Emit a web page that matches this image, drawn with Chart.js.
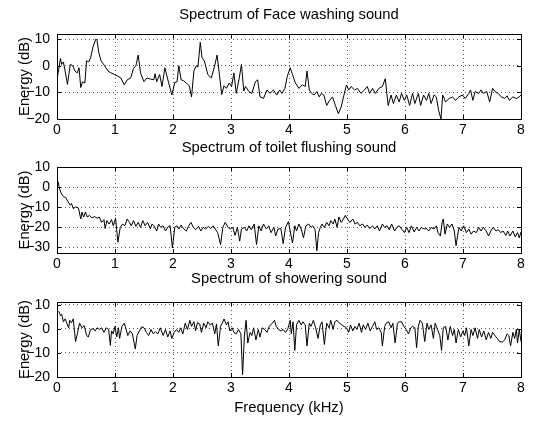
<!DOCTYPE html>
<html>
<head>
<meta charset="utf-8">
<script src="https://cdn.jsdelivr.net/npm/chart.js@4.4.1/dist/chart.umd.min.js"></script>
<style>
  html, body { margin: 0; padding: 0; background: #fff; }
  #wrap { position: relative; width: 534px; height: 426px; }
  .panel { position: absolute; left: 0; width: 534px; }
</style>
</head>
<body>
<div id="wrap">
  <div class="panel" style="top:0;height:140px"><canvas id="c1"></canvas></div>
  <div class="panel" style="top:134px;height:140px"><canvas id="c2"></canvas></div>
  <div class="panel" style="top:264px;height:162px"><canvas id="c3"></canvas></div>
</div>
<script>
// values (kHz, dB)
const faceFreq = [0.00,0.06,0.08,0.11,0.14,0.18,0.23,0.27,0.31,0.35,0.38,0.41,0.44,0.48,0.51,0.55,0.58,0.62,0.67,0.69,
  0.72,0.76,0.82,0.88,0.93,0.99,1.05,1.10,1.16,1.21,1.27,1.32,1.36,1.40,1.44,1.50,1.55,1.61,1.67,1.69,
  1.72,1.77,1.81,1.86,1.92,1.98,2.03,2.07,2.10,2.14,2.18,2.23,2.28,2.32,2.36,2.40,2.43,2.47,2.50,2.54,
  2.60,2.66,2.71,2.76,2.80,2.84,2.88,2.92,2.97,3.01,3.05,3.09,3.14,3.18,3.22,3.25,3.31,3.36,3.42,3.46,
  3.50,3.56,3.62,3.67,3.73,3.79,3.84,3.88,3.93,3.97,4.02,
  4.06,4.11,4.17,4.23,4.28,4.31,4.35,4.39,4.43,4.48,4.52,4.56,4.60,4.65,4.70,4.75,4.80,4.85,4.90,4.94,
  4.99,5.03,5.07,5.13,5.18,5.24,5.30,5.35,5.39,5.44,5.49,5.55,5.61,5.66,5.71,5.76,5.80,5.85,5.90,5.94,
  5.99,6.03,6.08,6.13,6.17,6.23,6.27,6.32,6.37,6.41,6.45,6.50,6.54,6.58,6.62,6.65,6.70,6.76,6.82,6.87,
  6.93,6.99,7.04,7.10,7.13,7.17,7.21,7.27,7.31,7.35,7.41,7.46,7.51,7.55,7.61,7.66,7.72,7.76,7.80,7.86,
  7.92,7.97,8.00];
const faceDb = [-5.3,2.7,0.5,1.4,-2,-7,0.5,0,-2,-2.7,-0.8,-8.2,-6,-6.5,1.8,1.5,3,7,10,9.5,
  5,1.8,0,-2,-2.7,-3.3,-4,-4.6,-7.2,-5.3,-4.6,-1,0,4,-2.7,-6,-4.6,-5,-5.3,-3,
  -6,-3.3,-7.8,-0.8,-6,-11,-6.3,-6,0,-5.3,-5.6,-6.5,-7.5,-11.7,-2,0,-0.5,8.8,3,1.8,
  -3.3,-4.6,-0.8,4,-3.3,-10.8,-7.5,-8.5,-6.5,-7.8,-2.7,-10.4,-4.9,0.5,-9.5,-7.8,-9.7,-10.4,-6,-5.3,
  -11.7,-12.3,-9.1,-10.4,-9.1,-11,-9.1,-10.4,-8.5,-4,-0.8,
  -3.3,-6.5,-8.5,-7.2,-7.8,-2,-9.1,-10.4,-11,-9.7,-11.7,-10.4,-11,-14.9,-13,-11.7,-14.9,-18,-15.5,-11.7,
  -7.2,-9.1,-7.8,-9.1,-8.5,-10.4,-9.1,-7.8,-10.4,-8.5,-10.4,-8.5,-7.8,-4.9,-14.9,-11,-14.2,-11,-13.6,-10.4,
  -13,-11,-14.9,-10.4,-14.2,-10.4,-14.9,-11,-13,-10.4,-14.2,-11,-11.7,-16.8,-20,-11,-13.6,-12.3,-11.7,-13,
  -11.7,-11,-12.3,-10.4,-9.1,-13,-9.7,-10.4,-9.1,-10.4,-9.7,-13.6,-8.5,-9.7,-10.4,-11.7,-12.3,-11.3,-13,-11.7,
  -12.3,-11.7,-11];

const flushFreq = [0.02,0.04,0.07,0.11,0.15,0.19,0.23,0.25,0.28,0.32,0.37,0.41,0.43,0.46,0.49,0.52,0.56,0.60,0.65,0.69,
  0.73,0.77,0.81,0.83,0.86,0.90,0.94,0.97,1.01,1.05,1.09,1.13,1.17,1.21,1.25,1.28,1.32,1.36,1.40,1.44,
  1.48,1.52,1.56,1.61,1.64,1.67,1.72,1.75,1.79,1.83,1.87,1.92,1.95,1.99,2.03,2.07,2.10,2.14,2.18,2.23,
  2.27,2.31,2.35,2.39,2.44,2.48,2.52,2.56,2.61,2.65,2.69,2.73,2.77,2.82,2.86,2.90,2.95,2.99,3.03,3.07,
  3.11,3.15,3.18,3.23,3.27,3.31,3.35,3.40,3.44,3.48,3.52,3.56,3.61,3.65,3.69,3.74,3.77,3.81,3.86,3.90,
  3.94,3.99,
  4.06,4.10,4.13,4.17,4.21,4.25,4.29,4.34,4.38,4.41,4.45,4.48,4.51,4.54,4.57,4.61,4.65,4.69,4.72,4.76,
  4.79,4.83,4.86,4.90,4.94,4.97,5.01,5.05,5.10,5.14,5.18,5.22,5.27,5.31,5.35,5.39,5.44,5.48,5.52,5.56,
  5.61,5.65,5.69,5.73,5.77,5.82,5.86,5.90,5.94,5.99,6.03,6.07,6.11,6.16,6.20,6.24,6.28,6.33,6.37,6.41,
  6.45,6.50,6.54,6.57,6.61,6.64,6.66,6.69,6.73,6.77,6.81,6.85,6.88,6.93,6.97,7.01,7.06,7.10,7.14,7.18,
  7.23,7.27,7.31,7.35,7.40,7.44,7.48,7.52,7.57,7.61,7.65,7.69,7.74,7.77,7.81,7.86,7.90,7.94,7.97,8.00];
const flushDb = [2.6,-0.5,-3,-4.8,-5.3,-7.4,-9.1,-8.2,-10.8,-10,-10.5,-16,-12.5,-15,-12.5,-15,-14.2,-15.4,-14.8,-15.6,
  -15,-17.7,-16.3,-20.8,-16.8,-18.5,-16.3,-19.4,-15.6,-27.6,-20.2,-18.5,-19.4,-16,-17.7,-19.4,-16.8,-19.7,-17.7,-20.2,
  -16.8,-19.4,-17.7,-20.8,-18.5,-19.4,-22,-18.5,-20.2,-19.4,-22,-19.7,-19.4,-30.5,-20.2,-19.4,-21,-19,-20.8,-22,
  -19.4,-17.7,-20.2,-21.4,-19.7,-22,-20.2,-21,-19.7,-20.8,-19.4,-21,-22.8,-28.8,-20.2,-17.7,-20.2,-21,-20.2,-24.2,
  -20.2,-27.1,-21,-20.2,-22,-19.4,-21.4,-18.5,-28.8,-19.4,-22,-18.5,-21,-19.4,-22.8,-20.2,-24.5,-21,-20.8,-28.3,
  -20.2,-17.3,
  -28,-19.4,-22,-18.5,-21,-25.4,-19.4,-18.5,-20.2,-19.4,-21.4,-31.9,-22.8,-20.2,-18.5,-20.2,-17.7,-19.4,-16.8,-18.5,
  -16,-20.2,-15,-17.7,-16,-14.2,-16,-17.7,-16,-18.5,-17.7,-19.4,-18.5,-20.2,-19,-20.8,-19.4,-21,-19.4,-22,
  -18.5,-20.2,-19.4,-21.4,-18.5,-22,-20.2,-19.4,-21,-22.8,-20.2,-22.8,-19.4,-22.5,-20.2,-22,-20.2,-21,-20.8,-22,
  -20.2,-21,-19.4,-22.8,-24.5,-17.7,-16,-23.6,-18.5,-20.2,-18.5,-22,-29.3,-20.2,-22,-19.4,-22.8,-21,-23.6,-22,
  -22.8,-20.2,-22,-20.2,-22,-24.5,-22,-20.2,-22,-21.4,-22.8,-22,-24.2,-22,-24.5,-22,-24.9,-22.8,-25.4,-22.5];

const showerFreq = [0.03,0.06,0.08,0.11,0.14,0.17,0.20,0.22,0.25,0.28,0.32,0.35,0.39,0.43,0.47,0.51,0.54,0.58,0.62,0.66,
  0.69,0.73,0.77,0.81,0.85,0.89,0.92,0.94,0.97,1.00,1.03,1.06,1.08,1.12,1.16,1.20,1.22,1.26,1.30,1.35,
  1.38,1.42,1.46,1.50,1.54,1.58,1.62,1.66,1.70,1.74,1.78,1.83,1.87,1.91,1.95,1.98,2.02,2.06,2.10,2.13,
  2.17,2.21,2.25,2.29,2.32,2.36,2.39,2.42,2.46,2.49,2.53,2.57,2.60,2.64,2.68,2.72,2.75,2.78,2.82,2.85,
  2.88,2.92,2.95,2.98,3.02,3.05,3.09,3.13,3.17,3.20,3.23,3.26,3.29,3.33,3.36,3.39,3.43,3.47,3.50,3.54,
  3.58,3.62,3.66,3.71,3.75,3.78,3.82,3.86,3.90,3.94,3.98,4.02,4.04,
  4.07,4.10,4.13,4.17,4.21,4.24,4.28,4.31,4.35,4.38,4.42,4.46,4.50,4.54,4.57,4.61,4.65,4.69,4.72,4.76,
  4.79,4.83,4.87,4.91,4.95,4.99,5.03,5.06,5.10,5.14,5.17,5.21,5.25,5.28,5.32,5.36,5.40,5.44,5.48,5.51,
  5.55,5.59,5.61,5.65,5.68,5.72,5.76,5.79,5.83,5.87,5.90,5.94,5.98,6.02,6.06,6.10,6.13,6.17,6.20,6.23,
  6.26,6.30,6.34,6.38,6.41,6.45,6.49,6.52,6.56,6.60,6.63,6.66,6.70,6.74,6.78,6.82,6.85,6.88,6.92,6.96,
  7.00,7.03,7.06,7.10,7.14,7.17,7.21,7.25,7.28,7.32,7.36,7.40,7.44,7.48,7.51,7.55,7.59,7.63,7.68,7.72,
  7.76,7.79,7.82,7.86,7.89,7.92,7.94,7.97,8.00];
const showerDb = [7.3,5.4,6,2.9,4.1,2.3,0.4,3.5,2.5,4.1,-5.3,-2.1,2.3,0.4,1.3,-2.8,-3.4,-0.3,0,-0.9,
  0.4,-0.3,0.4,-1.5,0.4,-0.3,-6.9,-0.9,-2.1,1,-3.4,0.4,-4,1,2.3,-0.9,-2.8,-0.9,-2.1,-8.4,
  -2.8,-0.9,0.8,0.4,-1.5,-2.8,-0.3,-2.1,-1.3,-2.1,0.4,-2.8,-0.3,-3.4,-0.9,-4,-1.5,-0.3,-1.5,0.4,
  -2.1,2.3,-0.3,3.5,1,2.9,-0.9,2.5,2,-1.5,2.3,0.4,2.9,1.6,2.3,-2.1,2,-7.1,1,2.3,
  4.1,1.6,2.9,-0.9,0.4,-1.5,-2.1,-0.3,-2.1,-19,-3.4,3.5,-5.9,-1.5,-2.8,0.4,-4.6,-0.3,-3.4,0.4,
  -0.3,-1.5,1,2.3,3.5,1,-0.3,-0.9,-0.3,-1.5,0,3.5,-2.1,
  2.9,-9,1.6,3.5,1.6,2.9,1.6,-7.1,2.3,1,3.5,0.4,-4,1.6,2.9,-6.5,2.3,0.4,3.5,-0.3,
  2.9,3.5,2.3,1.6,1,0.4,-1.5,1.6,-0.9,1,-0.3,2.3,-1.5,1.6,-0.3,2.3,-0.9,1,2.9,-0.3,
  0.4,-1.5,-7.1,1,2.5,2.9,0.4,2.3,-5.9,2.3,2.9,2.9,1,-0.3,-2.1,0.4,1,0.4,-7.8,1,
  3.5,2.3,-5.3,2.3,-0.3,1.6,-4,2.3,-0.3,-2.8,-9,0.4,1,-4.6,1,-2.8,-0.3,-5.9,-0.3,-3.4,
  -0.9,-2.8,0.4,-7.1,-0.3,-2.8,0.4,-4,-0.3,-3.4,-0.9,-4.6,-1.5,-4,-1.5,-2.8,-4,-5.3,-5.5,-4.6,
  -2.1,-2.8,-7.1,-1.5,-4,-0.3,-5.9,-0.3,-5.3];

const xTicks = [0, 1, 2, 3, 4, 5, 6, 7, 8];

Chart.defaults.font.family = '"Liberation Sans", Arial, Helvetica, sans-serif';
Chart.defaults.color = '#000';

const TICK_FONT = 14;
const LABEL_FONT = 14.8;

// matlab style box with inward tick marks
const boxPlugin = {
  id: 'box',
  afterDraw(chart) {
    const { ctx, chartArea: a, scales } = chart;
    ctx.save();
    ctx.strokeStyle = '#000';
    ctx.lineWidth = 1;
    ctx.beginPath();
    scales.x.ticks.forEach(t => {
      const px = Math.round(scales.x.getPixelForValue(t.value)) + 0.5;
      ctx.moveTo(px, a.bottom); ctx.lineTo(px, a.bottom - 4);
      ctx.moveTo(px, a.top); ctx.lineTo(px, a.top + 4);
    });
    scales.y.ticks.forEach(t => {
      const py = Math.round(scales.y.getPixelForValue(t.value)) + 0.5;
      ctx.moveTo(a.left, py); ctx.lineTo(a.left + 4, py);
      ctx.moveTo(a.right, py); ctx.lineTo(a.right - 4, py);
    });
    ctx.stroke();
    ctx.strokeRect(Math.round(a.left) + 0.5, Math.round(a.top) + 0.5,
      Math.round(a.right - a.left), Math.round(a.bottom - a.top));
    ctx.restore();
  }
};

function minus(v) {
  return String(v).replace('-', '\u2212');
}

// titleTop: height of the band above the plot, titlePad: padding above the title text
function makeChart(id, title, freq, db, yMin, yMax, titleTop, titlePad, xHeight, xTitle) {
  const pts = freq.map((f, i) => ({ x: f, y: db[i] }));
  return new Chart(document.getElementById(id), {
    type: 'line',
    data: {
      datasets: [{
        data: pts,
        xAxisID: 'x',
        borderColor: '#000',
        borderWidth: 1,
        pointRadius: 0,
        tension: 0,
        fill: false
      }]
    },
    options: {
      responsive: true,
      maintainAspectRatio: false,
      animation: false,
      layout: { padding: { left: 0, right: 13, top: 0, bottom: 0 } },
      plugins: {
        legend: { display: false },
        tooltip: { enabled: false },
        title: { display: false }
      },
      scales: {
        x: {
          type: 'linear',
          min: 0,
          max: 8,
          afterBuildTicks(s) { s.ticks = xTicks.map(v => ({ value: v })); },
          afterFit(s) { s.height = xHeight; },
          ticks: { padding: 3, font: { size: TICK_FONT }, color: '#000', maxRotation: 0, callback: v => minus(v) },
          grid: { color: 'rgba(0,0,0,0.65)', lineWidth: 1, drawTicks: false },
          border: { display: false, dash: [1, 3] },
          title: {
            display: !!xTitle,
            text: xTitle || '',
            color: '#000',
            font: { size: LABEL_FONT },
            padding: { top: 0, bottom: 9.2 }
          }
        },
        // top axis only carries the panel title, centred over the plot
        top: {
          type: 'linear',
          position: 'top',
          min: 0,
          max: 8,
          afterFit(s) { s.height = titleTop; },
          ticks: { display: false },
          grid: { display: false },
          border: { display: false },
          title: {
            display: true,
            text: title,
            color: '#000',
            font: { size: LABEL_FONT },
            padding: { top: titlePad, bottom: 0 }
          }
        },
        y: {
          min: yMin,
          max: yMax,
          afterFit(s) { s.width = 57; },
          ticks: { stepSize: 10, includeBounds: false, padding: 7, font: { size: TICK_FONT }, color: '#000', callback: v => minus(v) },
          grid: { color: 'rgba(0,0,0,0.65)', lineWidth: 1, drawTicks: false },
          border: { display: false, dash: [1, 3] },
          title: {
            display: true,
            text: 'Energy (dB)',
            color: '#000',
            font: { size: LABEL_FONT },
            padding: { top: 16, bottom: 0 }
          }
        }
      }
    },
    plugins: [boxPlugin]
  });
}

makeChart('c1', 'Spectrum of Face washing sound', faceFreq, faceDb, -20, 11.9, 34, 6.1, 21, null);
makeChart('c2', 'Spectrum of toilet flushing sound', flushFreq, flushDb, -33, 10, 33, 5.1, 21, null);
makeChart('c3', 'Spectrum of showering sound', showerFreq, showerDb, -20, 11.1, 38, 6.1, 49, 'Frequency (kHz)');
</script>
</body>
</html>
